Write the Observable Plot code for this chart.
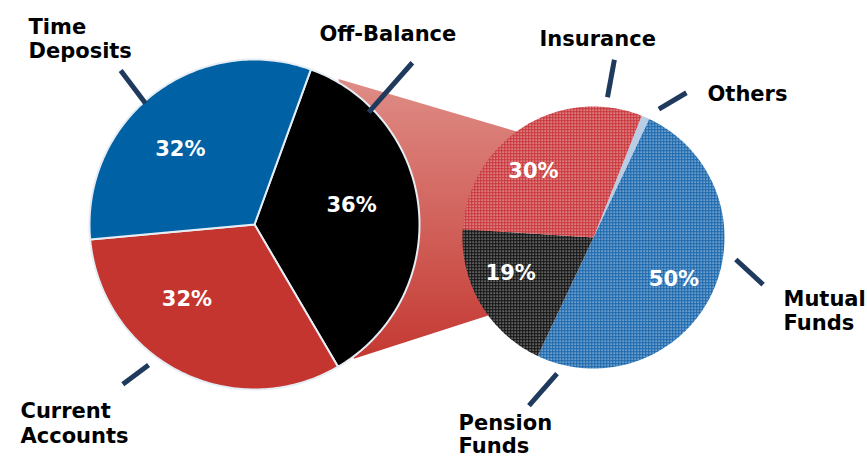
<!DOCTYPE html>
<html><head><meta charset="utf-8">
<script src="https://cdn.jsdelivr.net/npm/d3@7"></script>
<script src="https://cdn.jsdelivr.net/npm/@observablehq/plot@0.6"></script>
<style>
html,body{margin:0;padding:0;background:#fff;}
#chart{width:867px;height:457px;}
</style></head><body><div id="chart"></div>
<script>
// ---------- DATA ----------
const mainCategories = ["Off-Balance", "Current Accounts", "Time Deposits"];
const mainValues = [36, 32, 32];
const subCategories = ["Others", "Mutual Funds", "Pension Funds", "Insurance"];
const subValues = [1, 50, 19, 30];
const mainLabels = ["Off-Balance", "Current\nAccounts", "Time\nDeposits"];
const subLabels = ["Others", "Mutual\nFunds", "Pension\nFunds", "Insurance"];

// ---------- LAYOUT ----------
const W = 867, H = 457;
const mainPie = {cx: 254, cy: 224, r: 165, start: 20};
const subPie = {cx: 593, cy: 237, r: 131, start: 21.6};
const mainFills = ["#000000", "#c4352f", "#0062a5"];
const subFills = ["#b9cde5", "url(#dotBlue)", "url(#dotBlack)", "url(#dotRed)"];
const mainPct = [{da: -6, k: 0.6}, {da: 15, k: 0.61}, {da: -7, k: 0.64}];
const subPct = [null, {da: 2, k: 0.69}, {da: 7, k: 0.69}, {da: -10, k: 0.68}];
const mainCallouts = [
  {a0: 45.5, r0: 160, a1: 44.3, r1: 226, tx: 319, ty: 38, lh: 1.15},
  {a0: 217, r0: 176, a1: 219.5, r1: 207, tx: 20, ty: 415, lh: 1.17},
  {a0: 318, r0: 163, a1: 319, r1: 204, tx: 28, ty: 32, lh: 1.12}
];
const subCallouts = [
  {a0: 27, r0: 144, a1: 32.7, r1: 172, tx: 707, ty: 98, lh: 1.15},
  {a0: 98.8, r0: 144, a1: 105.5, r1: 176, tx: 783, ty: 303, lh: 1.15},
  {a0: 195, r0: 141, a1: 201, r1: 180, tx: 458, ty: 428, lh: 1.1},
  {a0: 5.7, r0: 141, a1: 6.7, r1: 179, tx: 539, ty: 43, lh: 1.15}
];
const FONT = "DejaVu Sans";
const FS = 21;

const rad = d => d * Math.PI / 180;
const polar = (p, deg, r) => ({x: p.cx + r * Math.sin(rad(deg)), y: p.cy - r * Math.cos(rad(deg))});

function makeSlices(pie, values, cats) {
  const arcs = d3.pie().sort(null).value(d => d)
    .startAngle(rad(pie.start)).endAngle(rad(pie.start) + 2 * Math.PI)(values);
  const total = d3.sum(values);
  return arcs.map((a, i) => {
    const pts = [{x: pie.cx, y: pie.cy}];
    const n = Math.max(2, Math.ceil((a.endAngle - a.startAngle) / rad(1)));
    for (let j = 0; j <= n; j++) {
      const t = a.startAngle + (a.endAngle - a.startAngle) * j / n;
      pts.push({x: pie.cx + pie.r * Math.sin(t), y: pie.cy - pie.r * Math.cos(t)});
    }
    return {cat: cats[i], value: values[i], pct: Math.round(values[i] / total * 100) + "%",
      mid: (a.startAngle + a.endAngle) / 2 * 180 / Math.PI, pts};
  });
}

const mainSlices = makeSlices(mainPie, mainValues, mainCategories);
const subSlices = makeSlices(subPie, subValues, subCategories);

// percent labels
const pctRows = [];
mainSlices.forEach((s, i) => {
  const o = mainPct[i]; if (!o) return;
  const p = polar(mainPie, s.mid + o.da, mainPie.r * o.k);
  pctRows.push({x: p.x, y: p.y, text: s.pct});
});
subSlices.forEach((s, i) => {
  const o = subPct[i]; if (!o) return;
  const p = polar(subPie, s.mid + o.da, subPie.r * o.k);
  pctRows.push({x: p.x, y: p.y, text: s.pct});
});

// callouts
const leaderRows = [], calloutMarks = [];
function addCallout(pie, c, label) {
  const a = polar(pie, c.a0, c.r0), b = polar(pie, c.a1, c.r1);
  leaderRows.push({x1: a.x, y1: a.y, x2: b.x, y2: b.y});
  calloutMarks.push(Plot.text([{x: c.tx, y: c.ty - 0.71 * FS, text: label}], {
    x: "x", y: "y", text: "text", fill: "#000000", fontSize: FS, fontWeight: "bold",
    fontFamily: FONT, textAnchor: "start", lineAnchor: "top", lineHeight: c.lh}));
}
mainCallouts.forEach((c, i) => addCallout(mainPie, c, mainLabels[i]));
subCallouts.forEach((c, i) => addCallout(subPie, c, subLabels[i]));

// connector band from the Off-Balance slice to the breakdown pie
const connector = [
  polar(mainPie, 30, mainPie.r + 3),
  polar(subPie, 324, subPie.r),
  polar(subPie, 233.5, subPie.r),
  polar(mainPie, 143.5, mainPie.r + 2)
];

const marks = [
  Plot.line(connector, {x: "x", y: "y", curve: "linear-closed", fill: "url(#connGrad)", stroke: "none"}),
  ...mainSlices.map((s, i) => Plot.line(s.pts, {x: "x", y: "y", curve: "linear-closed",
    fill: mainFills[i], stroke: "#e6edf5", strokeWidth: 2, strokeLinejoin: "round"})),
  ...subSlices.map((s, i) => Plot.line(s.pts, {x: "x", y: "y", curve: "linear-closed",
    fill: subFills[i], stroke: "none"})),
  Plot.link(leaderRows, {x1: "x1", y1: "y1", x2: "x2", y2: "y2", stroke: "#1f3a5c", strokeWidth: 5, strokeLinecap: "butt"}),
  Plot.text(pctRows, {x: "x", y: "y", text: "text", fill: "#ffffff", fontSize: FS, fontWeight: "bold",
    fontFamily: FONT, textAnchor: "middle", lineAnchor: "middle", ariaLabel: "pct"}),
  ...calloutMarks
];

const chart = Plot.plot({
  width: W, height: H, margin: 0,
  x: {domain: [0, W], range: [0, W], axis: null},
  y: {domain: [0, H], range: [0, H], axis: null},
  style: {background: "#ffffff", fontFamily: FONT, overflow: "visible"},
  marks
});

const defs = d3.select(chart).insert("defs", ":first-child");
const g = defs.append("linearGradient").attr("id", "connGrad")
  .attr("gradientUnits", "userSpaceOnUse").attr("x1", 0).attr("x2", 0)
  .attr("y1", connector[0].y).attr("y2", connector[3].y);
g.append("stop").attr("offset", 0).attr("stop-color", "#df8c86");
g.append("stop").attr("offset", 1).attr("stop-color", "#c43932");
function dotPattern(id, base, dot) {
  const p = defs.append("pattern").attr("id", id).attr("patternUnits", "userSpaceOnUse")
    .attr("width", 3).attr("height", 3);
  p.append("rect").attr("width", 3).attr("height", 3).attr("fill", base);
  p.append("rect").attr("x", 1).attr("y", 1).attr("width", 1.3).attr("height", 1.3)
    .attr("fill", dot);
}
dotPattern("dotRed", "#c8353a", "#f7e0e0");
dotPattern("dotBlack", "#111111", "#d0d0d0");
dotPattern("dotBlue", "#1a67ad", "#dbe8f5");

d3.select(chart).selectAll('g[aria-label="pct"] text').style("letter-spacing", "1.2px");

document.getElementById("chart").appendChild(chart);
</script></body></html>
